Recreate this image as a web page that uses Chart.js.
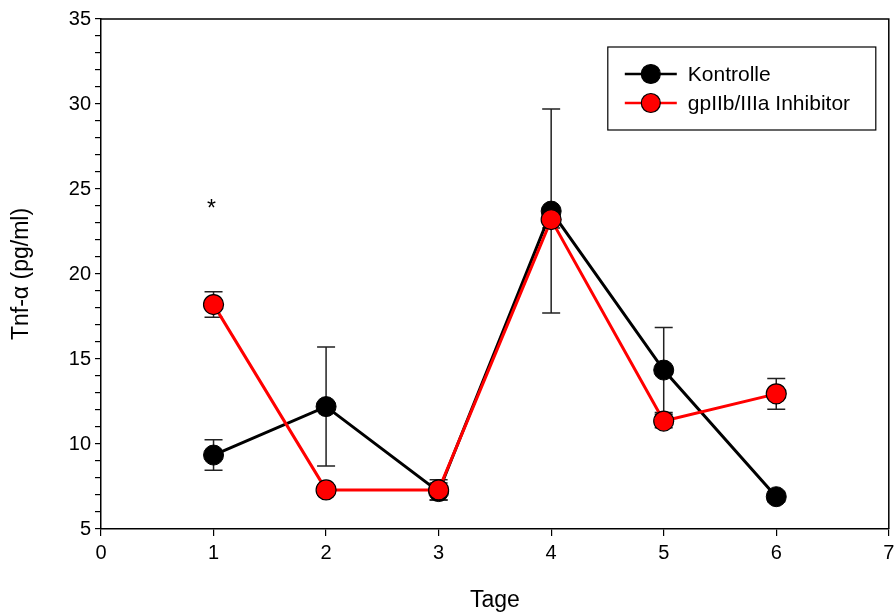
<!DOCTYPE html>
<html>
<head>
<meta charset="utf-8">
<script src="https://cdn.jsdelivr.net/npm/chart.js@4.4.1/dist/chart.umd.min.js"></script>
<style>
    html, body { margin: 0; padding: 0; background: #fff; }
    #clip { width: 895px; height: 614px; overflow: hidden; }
    #wrap { width: 900px; height: 614px; }
</style>
</head>
<body>
<div id="clip"><div id="wrap"><canvas id="chart"></canvas></div></div>
<script>
// Data
const days = [1, 2, 3, 4, 5, 6];
const kontrolle = [9.35, 12.2, 7.2, 23.7, 14.35, 6.9];
const kontrolleErr = [0.9, 3.5, 0.5, 6.0, 2.5, 0.3];
const inhibitor = [18.2, 7.3, 7.3, 23.2, 11.35, 12.95];
const inhibitorErr = [0.75, 0.3, 0.6, 0.5, 0.4, 0.9];
const seriesNames = ['Kontrolle', 'gpIIb/IIIa Inhibitor'];
const starDay = 1;
const starValue = 24;

const FONT = "'Liberation Sans', Arial, sans-serif";

const toPoints = (vals) => days.map((d, i) => ({ x: d, y: vals[i] }));

// Error bars (drawn under the markers)
const errorBars = {
    id: 'errorBars',
    beforeDatasetsDraw(chart) {
        const { ctx, scales: { y } } = chart;
        ctx.save();
        ctx.strokeStyle = '#222';
        ctx.lineWidth = 1.5;
        chart.data.datasets.forEach((ds, i) => {
            const meta = chart.getDatasetMeta(i);
            meta.data.forEach((pt, j) => {
                const v = ds.data[j].y, e = ds.errors[j];
                const top = y.getPixelForValue(v + e);
                const bot = y.getPixelForValue(v - e);
                ctx.beginPath();
                ctx.moveTo(pt.x, top); ctx.lineTo(pt.x, bot);
                ctx.moveTo(pt.x - 9, top); ctx.lineTo(pt.x + 9, top);
                ctx.moveTo(pt.x - 9, bot); ctx.lineTo(pt.x + 9, bot);
                ctx.stroke();
            });
        });
        ctx.restore();
    }
};

// Top/right frame, asterisk and legend box inside the plot
const decorations = {
    id: 'decorations',
    afterDatasetsDraw(chart) {
        const { ctx, chartArea: a, scales: { x, y } } = chart;
        ctx.save();
        ctx.strokeStyle = '#000';
        ctx.lineWidth = 1.5;
        ctx.beginPath();
        ctx.moveTo(a.left, a.top); ctx.lineTo(a.right, a.top); ctx.lineTo(a.right, a.bottom);
        ctx.stroke();

        ctx.fillStyle = '#000';
        ctx.font = '23px ' + FONT;
        ctx.textAlign = 'center';
        ctx.textBaseline = 'middle';
        ctx.fillText('*', x.getPixelForValue(starDay) - 2, y.getPixelForValue(starValue) + 4);

        // legend
        const bx = a.right - 281, by = a.top + 28, bw = 268, bh = 83;
        ctx.lineWidth = 1.2;
        ctx.strokeRect(bx, by, bw, bh);
        ctx.font = '21px ' + FONT;
        ctx.textAlign = 'left';
        chart.data.datasets.forEach((ds, i) => {
            const ry = by + 27 + i * 29;
            ctx.strokeStyle = ds.borderColor;
            ctx.lineWidth = 2.5;
            ctx.beginPath();
            ctx.moveTo(bx + 17, ry); ctx.lineTo(bx + 69, ry);
            ctx.stroke();
            ctx.beginPath();
            ctx.arc(bx + 43, ry, 9.5, 0, Math.PI * 2);
            ctx.fillStyle = ds.pointBackgroundColor;
            ctx.fill();
            ctx.strokeStyle = '#000';
            ctx.lineWidth = 1.2;
            ctx.stroke();
            ctx.fillStyle = '#000';
            ctx.fillText(seriesNames[i], bx + 80, ry + 1);
        });
        ctx.restore();
    }
};

new Chart(document.getElementById('chart'), {
    type: 'line',
    data: {
        datasets: [
            {
                label: seriesNames[0],
                data: toPoints(kontrolle),
                errors: kontrolleErr,
                borderColor: '#000',
                borderWidth: 3,
                pointBackgroundColor: '#000',
                pointBorderColor: '#000',
                pointBorderWidth: 1,
                pointRadius: 10,
                order: 1
            },
            {
                label: seriesNames[1],
                data: toPoints(inhibitor),
                errors: inhibitorErr,
                borderColor: '#ff0000',
                borderWidth: 3,
                pointBackgroundColor: '#ff0000',
                pointBorderColor: '#000',
                pointBorderWidth: 1.2,
                pointRadius: 10,
                order: 0
            }
        ]
    },
    options: {
        responsive: true,
        maintainAspectRatio: false,
        animation: false,
        layout: { padding: { top: 19, right: 1, left: 0, bottom: 0 } },
        plugins: { legend: { display: false }, tooltip: { enabled: false } },
        scales: {
            x: {
                type: 'linear',
                min: 0, max: 7,
                ticks: { stepSize: 1, color: '#000', font: { family: FONT, size: 20 }, padding: 5 },
                grid: { drawOnChartArea: false, tickLength: 7, color: '#000', lineWidth: 1.2 },
                border: { color: '#000', width: 1.5 },
                title: { display: true, text: 'Tage', color: '#000', font: { family: FONT, size: 23 }, padding: { top: 2, bottom: 0 } },
                afterFit: (s) => { s.height = 85; }
            },
            y: {
                min: 5, max: 35,
                ticks: {
                    stepSize: 1, autoSkip: false, color: '#000', padding: 4,
                    font: { family: FONT, size: 20 },
                    callback: (v) => (v % 5 === 0 ? v : '')
                },
                grid: { drawOnChartArea: false, tickLength: 6, color: '#000', lineWidth: 1.2 },
                border: { color: '#000', width: 1.5 },
                title: { display: true, text: 'Tnf-α (pg/ml)', color: '#000', font: { family: FONT, size: 23 }, padding: { top: 8, bottom: 2 } },
                afterFit: (s) => { s.width = 101; }
            }
        }
    },
    plugins: [errorBars, decorations]
});
</script>
</body>
</html>
